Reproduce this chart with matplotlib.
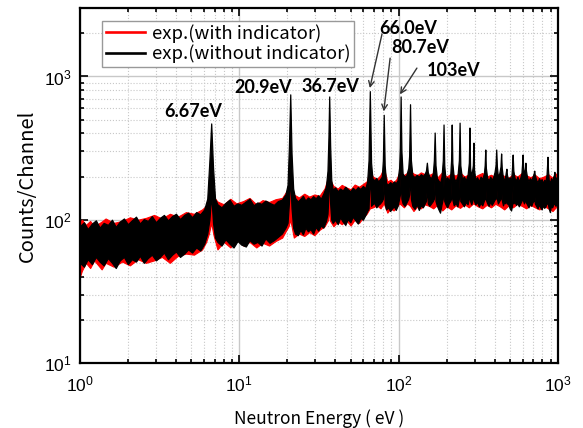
import matplotlib
matplotlib.use("Agg")
import matplotlib.pyplot as plt
from matplotlib.lines import Line2D

plt.rcParams["font.family"] = ["Noto Sans CJK JP", "DejaVu Sans"]
plt.rcParams["mathtext.default"] = "regular"

# black series: "exp.(without indicator)" -- band low / high edges
e_black = [
    1.00, 1.06, 1.12, 1.19, 1.26, 1.33, 1.41, 1.50, 1.59, 1.68, 1.78, 1.89, 2.00, 2.12, 2.25, 2.38,
    2.52, 2.67, 2.83, 3.00, 3.18, 3.37, 3.57, 3.79, 4.01, 4.25, 4.51, 4.78, 5.06, 5.37, 5.69, 6.03,
    6.30, 6.50, 6.67, 6.85, 7.05,
    7.30, 7.74, 8.20, 8.69, 9.21, 9.76, 10.3, 11.0, 11.6, 12.3, 13.0, 13.8, 14.6, 15.5, 16.5, 17.5, 18.5, 19.5,
    20.1, 20.5, 20.9, 21.3, 21.8,
    22.4, 23.3, 24.2, 25.1, 26.0, 27.0, 28.0, 29.1, 30.2, 31.3, 32.5, 33.7, 35.0,
    35.8, 36.3, 36.7, 37.2, 37.8,
    38.6, 40.0, 41.5, 43.0, 44.6, 46.3, 48.0, 49.8, 51.6, 53.5, 55.5, 57.6, 59.7, 61.9, 63.5,
    64.8, 66.0, 67.2,
    68.5, 70.5, 72.5, 74.5, 76.5, 78.5,
    79.7, 80.7, 81.8,
    83.5, 86.0, 88.5, 91.0, 93.5, 96.0, 98.5, 100.8,
    102.0, 103.0, 104.2,
    106, 109, 112, 115,
    116.5, 118, 119.5,
    122, 126, 130, 134, 138, 142, 146,
    148.5, 150.5, 152.5,
    156, 160, 164,
    166.5, 168.5, 170.5,
    174, 178, 182, 186,
    189.5, 191.5, 193.5,
    197, 202, 207, 211,
    213.5, 215.5, 217.5,
    222, 228, 234,
    239, 241.5, 244,
    250, 257, 264, 271,
    276, 278.5, 281,
    286,
    292.5, 295, 297.5,
    303, 311, 319, 327, 335, 343,
    347, 350, 353,
    360, 368, 376, 384, 392, 400,
    406, 410, 414,
    420, 428,
    436, 440, 444,
    452, 460, 468,
    471, 475, 479,
    488, 498, 508,
    515, 520, 525,
    535, 546, 557, 568, 580, 590,
    595, 600, 605,
    612,
    620, 625, 630,
    640, 653, 666, 680, 694,
    704, 710, 716,
    730, 745, 760, 775, 790, 805, 820, 835, 848,
    854, 860, 866,
    875, 890, 905, 920, 935,
    944, 950, 956,
    965, 980, 1000,
]
hi_black = [
    90, 96, 86, 94, 99, 88, 95, 92, 100, 89, 97, 102, 93, 99, 105, 94,
    101, 98, 106, 96, 103, 108, 99, 106, 110, 101, 108, 112, 104, 113, 109, 118,
    140, 260, 470, 230, 140,
    128, 122, 131, 138, 125, 130, 127, 134, 140, 126, 132, 129, 136, 131, 127, 135, 138, 150,
    175, 320, 750, 290, 165,
    142, 134, 140, 147, 136, 143, 139, 146, 141, 148, 140, 152, 170,
    220, 380, 725, 330, 190,
    162, 168, 158, 165, 160, 170, 163, 158, 167, 161, 169, 164, 172, 166, 185,
    260, 790, 250,
    195, 188, 196, 185, 192, 200,
    260, 540, 240,
    180, 176, 183, 178, 185, 180, 188, 230,
    320, 725, 300,
    210, 200, 205, 230,
    280, 640, 260,
    205, 198, 206, 200, 208, 202, 210,
    220, 250, 215,
    200, 195, 210,
    260, 406, 240,
    195, 188, 180, 200,
    260, 462, 240,
    190, 198, 186, 205,
    260, 462, 250,
    195, 186, 200,
    260, 476, 240,
    192, 200, 188, 205,
    250, 440, 230,
    200,
    240, 345, 225,
    190, 198, 185, 200, 192, 210,
    240, 309, 230,
    195, 188, 200, 190, 198, 215,
    240, 309, 235,
    200, 210,
    235, 290, 230,
    195, 190, 205,
    215, 227, 205,
    190, 198, 185,
    230, 285, 220,
    195, 188, 200, 185, 196, 210,
    240, 285, 230,
    205,
    225, 250, 220,
    198, 185, 195, 188, 200,
    210, 220, 205,
    190, 182, 195, 186, 192, 180, 190, 185, 205,
    235, 275, 225,
    190, 180, 195, 185, 200,
    205, 216, 200,
    190, 198, 185,
]
lo_black = [
    50, 47, 53, 49, 55, 51, 48, 54, 50, 46, 52, 55, 49, 53, 51, 56,
    50, 54, 57, 52, 55, 59, 53, 57, 60, 55, 58, 62, 59, 64, 61, 68,
    80, 100, 150, 95, 75,
    70, 66, 73, 68, 64, 71, 67, 65, 72, 68, 70, 66, 74, 69, 72, 76, 80, 88,
    95, 130, 200, 120, 88,
    80, 78, 85, 79, 88, 83, 86, 80, 89, 84, 91, 88, 98,
    110, 150, 230, 130, 100,
    95, 100, 93, 104, 97, 92, 101, 96, 105, 99, 94, 103, 100, 108, 115,
    120, 220, 125,
    128, 131, 122, 127, 130, 135,
    140, 200, 130,
    118, 122, 115, 120, 124, 117, 125, 140,
    150, 220, 140,
    130, 125, 132, 140,
    150, 210, 140,
    125, 119, 128, 117, 126, 122, 130,
    135, 170, 130,
    125, 130, 135,
    140, 200, 135,
    125, 118, 112, 128,
    140, 210, 135,
    128, 122, 131, 135,
    140, 210, 138,
    126, 131, 124,
    140, 210, 135,
    130, 124, 133, 128,
    140, 200, 135,
    128,
    140, 190, 135,
    128, 133, 124, 131, 126, 136,
    140, 180, 138,
    130, 125, 134, 127, 132, 138,
    140, 180, 140,
    130, 135,
    140, 180, 138,
    126, 133, 130,
    135, 165, 130,
    128, 120, 116,
    125, 175, 130,
    133, 127, 131, 124, 130, 135,
    138, 175, 135,
    130,
    135, 170, 132,
    128, 122, 130, 125, 133,
    135, 160, 130,
    125, 120, 128, 122, 118, 126, 121, 124, 130,
    130, 170, 128,
    120, 113, 126, 122, 128,
    130, 155, 128,
    125, 130, 128,
]

# red series: "exp.(with indicator)"
e_red = [
    1.00, 1.03, 1.09, 1.16, 1.23, 1.37, 1.45, 1.63, 1.84, 2.06, 2.31, 2.60, 2.92, 3.27, 3.67, 4.12,
    4.63, 5.20, 5.85, 6.20,
    6.45, 6.67, 6.90,
    7.30, 8.00, 8.80, 9.60, 10.6, 11.6, 12.8, 14.0, 15.4, 16.9, 18.6, 19.8,
    20.4, 20.9, 21.4,
    22.0, 23.7, 25.6, 27.5, 29.6, 31.9, 34.3,
    36.2, 36.7, 37.2,
    39.0, 41.5, 44.0, 47.0, 50.0, 53.0, 56.5, 60.0, 63.0,
    66.0,
    69, 73, 77, 80.7, 85, 89, 93, 97, 101,
    103, 108, 113, 118, 124, 131, 138, 146,
    155, 165, 176, 188, 200, 214, 228, 243, 259, 276, 294, 314, 335, 357, 380, 405,
    432, 460, 490, 522, 556, 593, 632, 673, 717, 764, 814, 868, 925, 970, 1000,
]
hi_red = [
    96, 100, 92, 98, 90, 97, 102, 95, 98, 104, 100, 103, 108, 102, 110, 105,
    113, 110, 118, 125,
    150, 176, 145,
    134, 128, 140, 130, 135, 142, 128, 137, 133, 139, 142, 158,
    170, 184, 165,
    150, 143, 152, 145, 150, 147, 165,
    200, 276, 190,
    172, 165, 175, 168, 163, 176, 170, 178, 185,
    220,
    200, 192, 205, 230, 185, 190, 182, 192, 213,
    213, 205, 212, 220, 210, 205, 214, 208,
    205, 212, 198, 215, 200, 210, 203, 214, 200, 208, 196, 205, 212, 200, 206, 198,
    210, 202, 196, 208, 200, 212, 204, 198, 206, 195, 200, 208, 196, 210, 205,
]
lo_red = [
    40, 44, 50, 46, 52, 45, 50, 47, 51, 48, 53, 50, 52, 55, 50, 56,
    58, 57, 62, 70,
    80, 95, 78,
    62, 70, 64, 73, 66, 70, 64, 69, 66, 71, 75, 85,
    90, 100, 88,
    75, 80, 77, 82, 78, 85, 90,
    100, 120, 98,
    90, 97, 93, 99, 91, 100, 95, 104, 110,
    120,
    122, 126, 120, 130, 112, 120, 116, 122, 130,
    128, 122, 130, 125, 115, 124, 120, 128,
    125, 120, 128, 116, 124, 118, 126, 121, 128, 122, 130, 124, 120, 127, 122, 129,
    124, 118, 126, 122, 129, 125, 120, 127, 122, 118, 125, 120, 115, 122, 125,
]

assert len(e_black) == len(hi_black) == len(lo_black)
assert len(e_red) == len(hi_red) == len(lo_red)

# peak labels: text, text position (axes fraction)
plain_labels = ["6.67eV", "20.9eV", "36.7eV"]
plain_pos = [(0.236, 0.710), (0.383, 0.777), (0.525, 0.780)]
# arrowed labels: text, text position, arrow tail (axes fraction), peak (eV, counts)
arrow_labels = ["66.0eV", "80.7eV", "103eV"]
arrow_text_pos = [(0.686, 0.944), (0.711, 0.890), (0.782, 0.825)]
arrow_tail = [(0.632, 0.927), (0.649, 0.859), (0.705, 0.831)]
arrow_peak = [(66.0, 830), (80.7, 570), (102.0, 750)]


def main() -> None:
    fig = plt.figure(figsize=(5.83, 4.28), dpi=100)
    ax = fig.add_axes([0.137, 0.152, 0.820, 0.829])

    ax.fill_between(e_red, lo_red, hi_red, color="#ff0000", lw=0.8, edgecolor="#ff0000")
    ax.fill_between(e_black, lo_black, hi_black, color="black", lw=0.9, edgecolor="black")

    ax.set_xscale("log")
    ax.set_yscale("log")
    ax.set_xlim(1, 1000)
    ax.set_ylim(10, 3000)

    ax.grid(True, which="major", color="#c8c8c8", lw=1.0, ls="-")
    ax.grid(True, which="minor", color="#c8c8c8", lw=0.8, ls=":")
    ax.set_axisbelow(True)

    ax.tick_params(which="both", direction="in", top=True, right=True, labelsize=12.5,
                   width=1.2, labelfontfamily="Liberation Sans")
    ax.tick_params(which="major", length=6)
    ax.tick_params(which="minor", length=3)
    ax.tick_params(axis="x", pad=8)
    ax.tick_params(axis="y", pad=6)
    for sp in ax.spines.values():
        sp.set_linewidth(1.6)

    ax.set_xlabel("Neutron Energy ( eV )", fontsize=12.5, labelpad=11)
    ax.set_ylabel("Counts/Channel", fontsize=14.5, labelpad=4)

    handles = [Line2D([], [], color="#ff0000", lw=1.9), Line2D([], [], color="black", lw=1.9)]
    leg = ax.legend(handles, ["exp.(with indicator)", "exp.(without indicator)"],
                    loc="upper left", bbox_to_anchor=(0.046, 0.965), borderaxespad=0,
                    fontsize=13.3, fancybox=False, framealpha=1, edgecolor="#999999",
                    handlelength=2.15, borderpad=0.2, labelspacing=0.08, handletextpad=0.35)
    leg.get_frame().set_linewidth(1.0)

    for txt, pos in zip(plain_labels, plain_pos):
        ax.text(pos[0], pos[1], txt, transform=ax.transAxes, ha="center", va="center",
                fontsize=13, fontweight="bold", family="Lato")

    for txt, pos, tail, peak in zip(arrow_labels, arrow_text_pos, arrow_tail, arrow_peak):
        ax.text(pos[0], pos[1], txt, transform=ax.transAxes, ha="center", va="center",
                fontsize=13, fontweight="bold", family="Lato")
        ax.annotate("", xy=peak, xycoords="data", xytext=tail, textcoords="axes fraction",
                    arrowprops=dict(arrowstyle="->", color="#333333", lw=1.0,
                                    shrinkA=0, shrinkB=0))

    fig.savefig("out.png", dpi=100)
    plt.close(fig)


if __name__ == "__main__":
    main()
